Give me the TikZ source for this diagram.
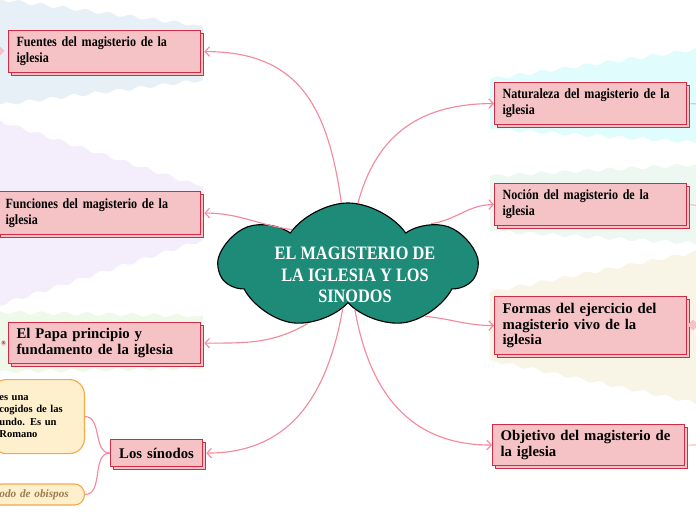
\documentclass[tikz,border=0pt]{standalone}
\usepackage{fontspec}
\setmainfont{Liberation Serif}
\newfontfamily\decofont[FakeStretch=0.86]{Liberation Serif}
\usetikzlibrary{arrows.meta,shapes.symbols,shapes.geometric,shadows,decorations.pathmorphing}
\definecolor{boxpink}{HTML}{F5C3C6}
\definecolor{boxred}{HTML}{D22B45}
\definecolor{linkpink}{HTML}{F4899B}
\definecolor{stubpink}{HTML}{F3C0C6}
\definecolor{hubteal}{HTML}{1E8A78}
\definecolor{noteyellow}{HTML}{FFF0CD}
\definecolor{noteorange}{HTML}{F7A84A}
\definecolor{notebrown}{HTML}{9C7B4E}
\definecolor{bandblue}{HTML}{E7F0F6}
\definecolor{bandlilac}{HTML}{F4EEFC}
\definecolor{bandgreen}{HTML}{EEF9EA}
\definecolor{bandcyan}{HTML}{E0FCFC}
\definecolor{bandmint}{HTML}{EEF8F2}
\definecolor{bandsand}{HTML}{F8F4E6}
\tikzset{
  maplink/.style={draw=linkpink, line width=0.8pt},
  maparr/.style={maplink, -{Straight Barb[length=1.1mm, width=2.4mm]}},
  stublink/.style={draw=stubpink, line width=0.8pt},
  mapbox/.style={draw=boxred, fill=boxpink, line width=0.8pt, anchor=north west, align=left,
    inner xsep=0.2cm, inner ysep=0pt, text width=4.4cm, minimum height=1.05cm,
    copy shadow={shadow xshift=0.075cm, shadow yshift=-0.075cm}},
  decotext/.style={font=\decofont\bfseries\fontsize{10}{11.4}\selectfont},
  serftext/.style={font=\bfseries\fontsize{10.5}{10.8}\selectfont},
  wavyband/.style={decoration={snake, amplitude=1.2pt, segment length=16pt}},
}

\begin{document}
\begin{tikzpicture}[
  x=0.025cm, y=0.025cm,
  hub/.style={cloud, cloud puffs=7, cloud puff arc=110, cloud ignores aspect, draw=black,
    fill=hubteal, line width=0.8pt, minimum width=6.4cm, minimum height=3.15cm},
  hubtext/.style={text=white, align=center, font=\decofont\bfseries\fontsize{13.5}{15.3}\selectfont},
  notebox/.style={draw=noteorange, fill=noteyellow, line width=0.8pt, align=left, inner xsep=0.2cm,
    text width=1.925cm, font=\bfseries\fontsize{7.5}{8.6}\selectfont},
  knob/.style={diamond, fill=boxpink, draw=stubpink, minimum size=0.25cm, inner sep=0pt},
]
  \useasboundingbox (0,0) rectangle (696,-520);
  \fill[bandblue, wavyband] (-10,2) decorate {-- (203,-26)} -- (203,-80) decorate {-- (-10,-106)} -- cycle;
  \fill[bandlilac, wavyband] (-10,-118) decorate {-- (203,-187)} -- (203,-240) decorate {-- (-10,-308)} -- cycle;
  \fill[bandgreen, wavyband] (-10,-312) decorate {-- (203,-316)} -- (203,-368) decorate {-- (-10,-372)} -- cycle;
  \fill[bandcyan, wavyband] (490,-79) decorate {-- (706,-48)} -- (706,-143) decorate {-- (490,-129)} -- cycle;
  \fill[bandmint, wavyband] (490,-176) decorate {-- (706,-164)} -- (706,-244) decorate {-- (490,-231)} -- cycle;
  \fill[bandsand, wavyband] (490,-292) decorate {-- (706,-250)} -- (706,-405) decorate {-- (490,-360)} -- cycle;

  \node[mapbox, decotext] (fuentes) at (8,-30) {Fuentes del magisterio de la\\iglesia};
  \node[mapbox, decotext, text width=4.675cm, minimum height=1.075cm] (funciones) at (-3,-191) {Funciones del magisterio de la\\iglesia};
  \node[mapbox, serftext, minimum height=1.025cm] (papa) at (8,-322) {El Papa principio y\\fundamento de la iglesia};
  \node[mapbox, serftext, text width=1.9cm, align=center, minimum height=0.675cm] (sinodos) at (110,-439) {Los sínodos};
  \node[mapbox, decotext] (naturaleza) at (494,-82) {Naturaleza del magisterio de la\\iglesia};
  \node[mapbox, decotext] (nocion) at (494,-183) {Noción del magisterio de la\\iglesia};
  \node[mapbox, serftext, minimum height=1.45cm] (formas) at (494,-296) {Formas del ejercicio del\\magisterio vivo de la\\iglesia};
  \node[mapbox, serftext, minimum height=1.025cm] (objetivo) at (492,-424) {Objetivo del magisterio de\\la iglesia};

  \node[hub] (hub) at (348,-266) {};
  \node[hubtext] (hubtitle) at (355,-275) {EL MAGISTERIO DE\\LA IGLESIA Y LOS\\SINODOS};

  \node[notebox, anchor=north east, minimum height=1.85cm, rounded corners=0.375cm] (sinodef) at (85,-379) {es una\\cogidos de las\\undo. Es un\\Romano};
  \node[notebox, anchor=east, minimum height=0.525cm, rounded corners=0.25cm, text=notebrown,
    font=\bfseries\itshape\fontsize{8}{9.6}\selectfont] (sinodobis) at (85,-494.5) {odo de obispos};

  \node[knob] (fuentesknob) at (-1,-51) {};
  \node[knob] (formasknob) at (693,-325) {};
  \node[draw=stubpink, fill=boxpink, rounded corners=1pt, inner sep=0.6pt, anchor=east,
    font=\fontsize{4.5}{5}\selectfont] (papatag) at (6,-343) {s};

  \draw[maparr] (hub.96) to[out=98, in=0, looseness=1.2] ([xshift=0.08cm]fuentes.east);
  \draw[maparr] (hub.147) to[out=172, in=0] ([xshift=0.08cm]funciones.east);
  \draw[maparr] (hub.235) to[out=210, in=0] ([xshift=0.08cm]papa.east);
  \draw[maparr] (hub.263) to[out=-100, in=0, looseness=1.1] ([xshift=0.08cm]sinodos.east);
  \draw[maparr] (hub.81) to[out=75, in=180, looseness=1.1] (naturaleza.west);
  \draw[maparr] (hub.27) to[out=8, in=180] (nocion.west);
  \draw[maparr] (hub.327) to[out=-6, in=180] (formas.west);
  \draw[maparr] (hub.279) to[out=-80, in=180, looseness=1.1] (objetivo.west);

  \draw[maplink] (sinodos.west) to[out=180, in=0] (sinodef.east);
  \draw[maplink] (sinodos.west) to[out=180, in=0] (sinodobis.east);

  \coordinate (naturend) at (700,-104);
  \coordinate (nocionend) at (700,-206);
  \coordinate (objetivoend) at (700,-445);
  \draw[stublink] ([xshift=0.08cm]naturaleza.east) -- (naturend);
  \draw[stublink] ([xshift=0.08cm]nocion.east) -- (nocionend);
  \draw[stublink] ([xshift=0.08cm]objetivo.east) -- (objetivoend);
\end{tikzpicture}
\end{document}
